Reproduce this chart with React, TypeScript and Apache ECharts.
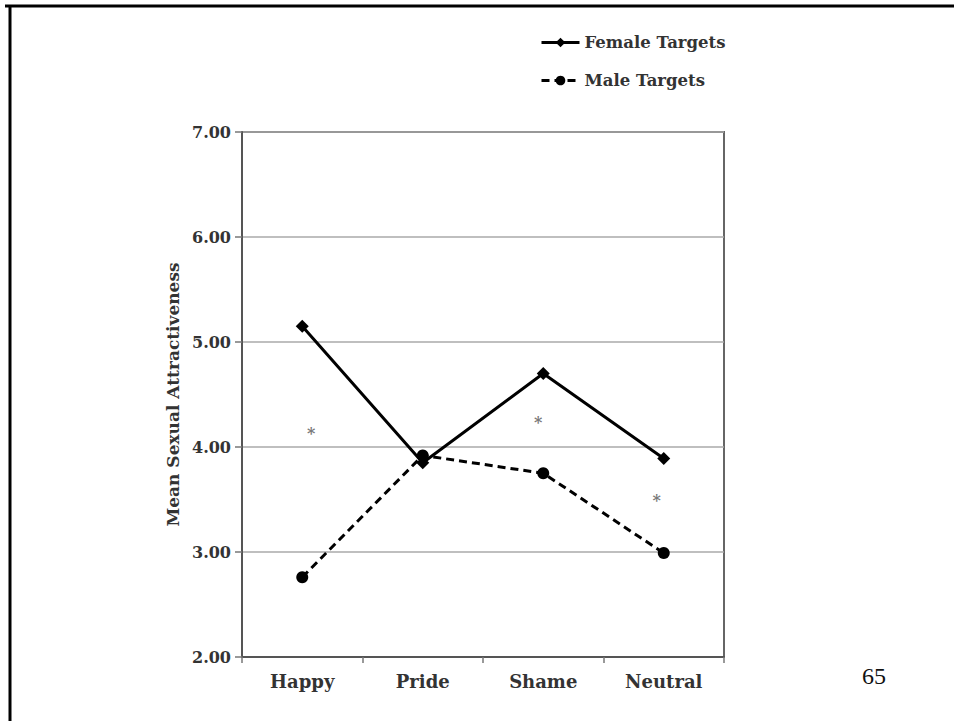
import React, { useEffect, useRef } from "react";
import * as echarts from "echarts";

// Emotion conditions on the x axis
const categories = ["Happy", "Pride", "Shame", "Neutral"];
// Mean ratings per condition
const femaleTargets = [5.15, 3.85, 4.7, 3.89];
const maleTargets = [2.76, 3.92, 3.75, 2.99];
// Significance markers: [category index, rating position]
const significance: [number, number][] = [
  [0, 4.14],
  [2, 4.24],
  [3, 3.5],
];
// Small horizontal nudges so the markers sit beside the lines
const significanceNudge = [9, -5, -7];
const yTicks = [2, 3, 4, 5, 6, 7];
const slideNumber = "65";

const SERIF = "'DejaVu Serif', 'Liberation Serif', serif";

export default function App() {
  const ref = useRef<HTMLDivElement>(null);

  useEffect(() => {
    document.body.style.margin = "0";
    const chart = echarts.init(ref.current!, null, { renderer: "svg" });
    chart.setOption({
      animation: false,
      backgroundColor: "#ffffff",
      grid: {
        left: 242,
        top: 132,
        width: 482,
        height: 525,
        show: true,
        borderColor: "#666",
        borderWidth: 2,
      },
      legend: {
        data: ["Female Targets", "Male Targets"],
        orient: "vertical",
        left: 535,
        top: 29,
        itemWidth: 38,
        itemHeight: 12,
        itemGap: 21,
        lineStyle: { width: 3 },
        textStyle: {
          fontFamily: SERIF,
          fontWeight: "bold",
          fontSize: 16.5,
          color: "#333",
        },
      },
      xAxis: {
        type: "category",
        data: categories,
        boundaryGap: true,
        axisLine: { lineStyle: { color: "#555", width: 2 } },
        axisTick: { show: true, interval: 0, length: 6, lineStyle: { color: "#777", width: 1.5 } },
        axisLabel: {
          margin: 15,
          fontFamily: SERIF,
          fontWeight: "bold",
          fontSize: 18,
          color: "#333",
        },
        splitLine: { show: false },
      },
      yAxis: {
        type: "value",
        min: yTicks[0],
        max: yTicks[yTicks.length - 1],
        interval: 1,
        name: "Mean Sexual Attractiveness",
        nameLocation: "middle",
        nameRotate: 90,
        nameGap: 60,
        nameTextStyle: {
          fontFamily: SERIF,
          fontWeight: "bold",
          fontSize: 17,
          color: "#333",
        },
        axisLine: { show: true, lineStyle: { color: "#555", width: 2 } },
        axisTick: { show: true, length: 7, lineStyle: { color: "#777", width: 1.5 } },
        axisLabel: {
          margin: 11,
          formatter: (v: number) => v.toFixed(2),
          fontFamily: SERIF,
          fontWeight: "bold",
          fontSize: 16,
          color: "#333",
        },
        splitLine: { show: true, lineStyle: { color: "#aaa", width: 1.5 } },
      },
      series: [
        {
          name: "Female Targets",
          type: "line",
          data: femaleTargets,
          symbol: "diamond",
          symbolSize: 13,
          itemStyle: { color: "#000" },
          lineStyle: { color: "#000", width: 3 },
          z: 3,
        },
        {
          name: "Male Targets",
          type: "line",
          data: maleTargets,
          symbol: "circle",
          symbolSize: 12,
          itemStyle: { color: "#000" },
          lineStyle: { color: "#000", width: 3, type: [8, 5] },
          z: 3,
        },
        {
          name: "significance",
          type: "scatter",
          data: significance.map((p, i) => ({
            value: p,
            label: { offset: [significanceNudge[i], 1] },
          })),
          symbolSize: 0,
          silent: true,
          itemStyle: { color: "#555" },
          label: {
            show: true,
            position: "inside",
            formatter: () => "*",
            fontFamily: SERIF,
            fontWeight: "bold",
            fontSize: 16,
            color: "#555",
          },
        },
      ],
      graphic: [
        {
          type: "line",
          shape: { x1: 5, y1: 6, x2: 954, y2: 6 },
          style: { stroke: "#000", lineWidth: 3 },
        },
        {
          type: "line",
          shape: { x1: 10, y1: 5, x2: 10, y2: 721 },
          style: { stroke: "#000", lineWidth: 3 },
        },
        {
          type: "text",
          left: 862,
          top: 664,
          style: {
            text: slideNumber,
            font: "24px 'Liberation Serif', serif",
            fill: "#111",
          },
        },
      ],
    });
    return () => chart.dispose();
  }, []);

  return (
    <div
      ref={ref}
      style={{ position: "fixed", left: 0, top: 0, width: 954, height: 721 }}
    />
  );
}
